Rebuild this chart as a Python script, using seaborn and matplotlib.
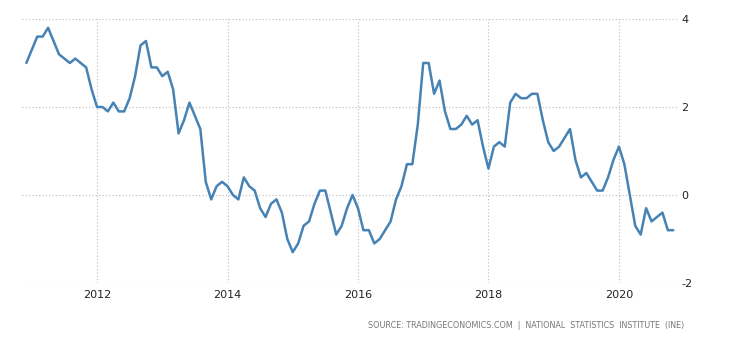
import matplotlib
matplotlib.use("Agg")
import matplotlib.pyplot as plt
import seaborn as sns
import pandas as pd
import numpy as np

# Monthly inflation rate (%), Dec 2010 .. Nov 2020
start_year = 2010
start_month = 12
values = [
    3.0,
    3.3, 3.6, 3.6, 3.8, 3.5, 3.2, 3.1, 3.0, 3.1, 3.0, 2.9, 2.4,   # 2011
    2.0, 2.0, 1.9, 2.1, 1.9, 1.9, 2.2, 2.7, 3.4, 3.5, 2.9, 2.9,   # 2012
    2.7, 2.8, 2.4, 1.4, 1.7, 2.1, 1.8, 1.5, 0.3, -0.1, 0.2, 0.3,  # 2013
    0.2, 0.0, -0.1, 0.4, 0.2, 0.1, -0.3, -0.5, -0.2, -0.1, -0.4, -1.0,  # 2014
    -1.3, -1.1, -0.7, -0.6, -0.2, 0.1, 0.1, -0.4, -0.9, -0.7, -0.3, 0.0,  # 2015
    -0.3, -0.8, -0.8, -1.1, -1.0, -0.8, -0.6, -0.1, 0.2, 0.7, 0.7, 1.6,  # 2016
    3.0, 3.0, 2.3, 2.6, 1.9, 1.5, 1.5, 1.6, 1.8, 1.6, 1.7, 1.1,   # 2017
    0.6, 1.1, 1.2, 1.1, 2.1, 2.3, 2.2, 2.2, 2.3, 2.3, 1.7, 1.2,   # 2018
    1.0, 1.1, 1.3, 1.5, 0.8, 0.4, 0.5, 0.3, 0.1, 0.1, 0.4, 0.8,   # 2019
    1.1, 0.7, 0.0, -0.7, -0.9, -0.3, -0.6, -0.5, -0.4, -0.8, -0.8,  # 2020
]
x_ticks = [2012, 2014, 2016, 2018, 2020]
y_ticks = [-2, 0, 2, 4]
source_text = "SOURCE: TRADINGECONOMICS.COM  |  NATIONAL  STATISTICS  INSTITUTE  (INE)"

t = [start_year + (start_month - 1 + i) / 12.0 for i in range(len(values))]
df = pd.DataFrame({"t": t, "v": values})

sns.set_theme(style="white")
plt.rcParams['font.family'] = ['DejaVu Sans']

fig = plt.figure(figsize=(7.3, 3.4), dpi=100)
ax = fig.add_axes([22/730, 1 - 283/340, (677-22)/730, (283-19)/340])

sns.lineplot(data=df, x="t", y="v", ax=ax, color="#4682b4", linewidth=1.8)
for ln in ax.get_lines():
    ln.set_solid_joinstyle("round")
    ln.set_solid_capstyle("round")

ax.set_xlim(2010.85, 2020.89)
ax.set_ylim(-2, 4)
ax.set_xticks(x_ticks)
ax.set_xticklabels([str(v) for v in x_ticks])
ax.set_yticks(y_ticks)
ax.set_yticklabels([str(v) for v in y_ticks])
ax.yaxis.tick_right()
ax.tick_params(axis="both", length=0, labelsize=8, colors="#222222")
ax.tick_params(axis="y", pad=3)
ax.tick_params(axis="x", pad=5)
ax.grid(True, linestyle=(0, (1, 2)), color="#bbbbbb", linewidth=0.8)
for s in ax.spines.values():
    s.set_visible(False)
ax.set_xlabel("")
ax.set_ylabel("")

fig.text(684/730, 1 - 325/340, source_text, ha="right", va="center",
         fontsize=5.75, color="#777777")

fig.savefig("out.png", dpi=100)
